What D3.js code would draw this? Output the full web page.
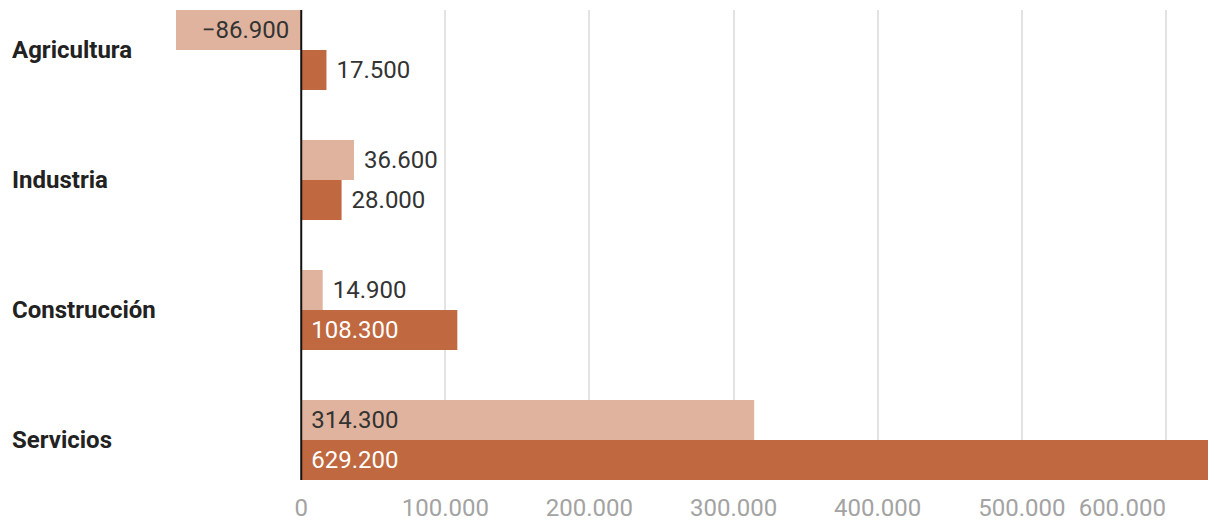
<!DOCTYPE html>
<html><head><meta charset="utf-8">
<script src="https://cdn.jsdelivr.net/npm/d3@7"></script>
<style>body{margin:0;background:#fff;font-family:Roboto,sans-serif;}</style>
</head><body>
<svg id="c" width="1220" height="526"></svg>
<script>
const categories = ["Agricultura","Industria","Construcción","Servicios"];
const series1 = [-86900, 36600, 14900, 314300];
const series2 = [17500, 28000, 108300, 629200];
const ticks = [0,100000,200000,300000,400000,500000,600000];
const tickLabels = ["0","100.000","200.000","300.000","400.000","500.000","600.000"];
const colors = ["#e0b39e","#c0683f"];

const svg = d3.select("#c");
const x = d3.scaleLinear().domain([-86900, 629200]).range([176, 1208]);
const step = 130, barH = 40, top0 = 10;
const fmt = v => (v<0?"\u2212":"") + d3.format(",.0f")(Math.abs(v)).replace(/,/g,".");

// gridlines
svg.append("g").selectAll("line").data(ticks.filter(t=>t>0)).join("line")
  .attr("x1",d=>Math.round(x(d))).attr("x2",d=>Math.round(x(d)))
  .attr("y1",10).attr("y2",480).attr("stroke","#e3e3e3").attr("stroke-width",2);

// axis labels
svg.append("g").selectAll("text").data(ticks).join("text")
  .attr("x",d=>x(d))
  .attr("y",516)
  .attr("text-anchor",(d,i)=> i===ticks.length-1 ? "end" : "middle")
  .attr("font-size",24).attr("fill","#a3a3a3")
  .text((d,i)=>tickLabels[i]);

const rows = [];
categories.forEach((c,i)=>{
  rows.push({c,i,s:0,v:series1[i]});
  rows.push({c,i,s:1,v:series2[i]});
});
const by = d => top0 + d.i*step + d.s*barH;

svg.append("g").selectAll("rect").data(rows).join("rect")
  .attr("x",d=>Math.min(x(0),x(d.v))).attr("width",d=>Math.abs(x(d.v)-x(0)))
  .attr("y",by).attr("height",barH).attr("fill",d=>colors[d.s]);

// value labels
svg.append("g").selectAll("text").data(rows).join("text")
  .each(function(d){
    const w = Math.abs(x(d.v)-x(0));
    const t = d3.select(this);
    const inside = w > 110;
    let xx, anchor;
    if (d.v < 0) { xx = x(0)-12; anchor="end"; }
    else if (inside) { xx = x(0)+10; anchor="start"; }
    else { xx = x(d.v)+10; anchor="start"; }
    t.attr("x",xx).attr("text-anchor",anchor)
     .attr("fill", inside && d.s===1 ? "#ffffff" : "#333333");
  })
  .attr("y",d=>by(d)+barH/2).attr("dy","0.35em")
  .attr("font-size",24)
  .text(d=>fmt(d.v));

// category labels
svg.append("g").selectAll("text").data(categories).join("text")
  .attr("x",12).attr("y",(d,i)=>top0+i*step+barH).attr("dy","0.35em")
  .attr("font-size",24).attr("font-weight","bold").attr("fill","#222")
  .text(d=>d);

// zero line
svg.append("line").attr("x1",x(0)).attr("x2",x(0)).attr("y1",10).attr("y2",480)
  .attr("stroke","#111").attr("stroke-width",2);
</script>
</body></html>
